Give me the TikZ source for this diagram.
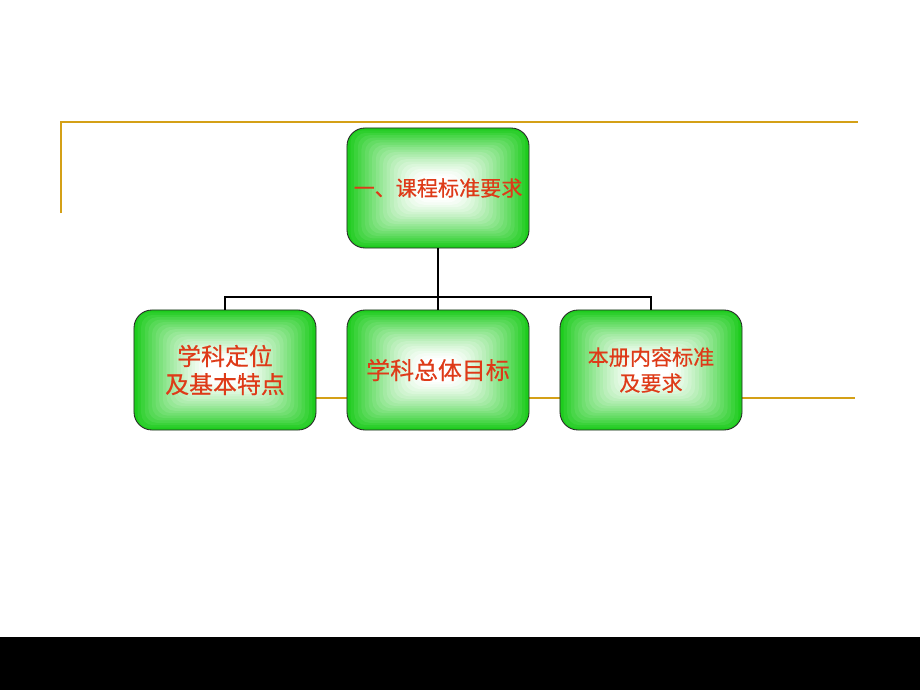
\documentclass[tikz,border=0pt]{standalone}
\usepackage{fontspec}
\newfontfamily\cjk[FakeBold=0.5]{Noto Sans CJK SC}
\usepackage{xcolor}
\usetikzlibrary{positioning,calc}

\definecolor{goldline}{RGB}{212,160,23}
\definecolor{labelred}{RGB}{222,58,24}
\definecolor{boxgreen}{RGB}{30,204,30}

\tikzset{
  % green edge, white centre, following the box outline
  glow/.style={path picture={
    \foreach \k in {1,...,25} {
      \pgfmathsetmacro\share{100*max(0,1-\k/20)^1.3}
      \fill[boxgreen!\share!white, rounded corners=0.3cm]
        ([xshift=\k*0.09cm, yshift=-\k*0.06cm]path picture bounding box.north west)
        rectangle ([xshift=-\k*0.09cm, yshift=\k*0.06cm]path picture bounding box.south east);
    }
  }},
  topicbox/.style={draw=black!85, line width=0.6pt, rounded corners=0.45cm,
    fill=boxgreen, glow, minimum width=4.55cm, minimum height=3.0cm,
    align=center, text=labelred, inner sep=1pt},
  link/.style={line width=2pt, black},
  rule/.style={line width=1.7pt, goldline}
}

\begin{document}
\begin{tikzpicture}[x=0.025cm, y=-0.025cm]
    % page
    \fill[white] (0,0) rectangle (920,690);
    \fill[black] (0,637) rectangle (920,690);

    % gold frame lines
    \draw[rule] (61,213) -- (61,122) -- (858,122);
    \draw[rule] (300,398) -- (855,398);

    % boxes
    \node[topicbox, font=\cjk\fontsize{15}{18}\selectfont] (top) at (438,188) {一、课程标准要求};
    \node[topicbox, font=\cjk\fontsize{17}{20}\selectfont] (place) at (225,370) {学科定位\\及基本特点};
    \node[topicbox, font=\cjk\fontsize{17}{20}\selectfont] (aim) at (438,370) {学科总体目标};
    \node[topicbox, font=\cjk\fontsize{15}{18.5}\selectfont] (book) at (651,370) {本册内容标准\\及要求};

    % connectors
    \coordinate (bus) at (438,297);
    \draw[link] (top.south) -- (bus);
    \draw[link] (bus) -- (aim.north);
    \draw[link] (place.north) |- (bus);
    \draw[link] (book.north) |- (bus);
\end{tikzpicture}
\end{document}
